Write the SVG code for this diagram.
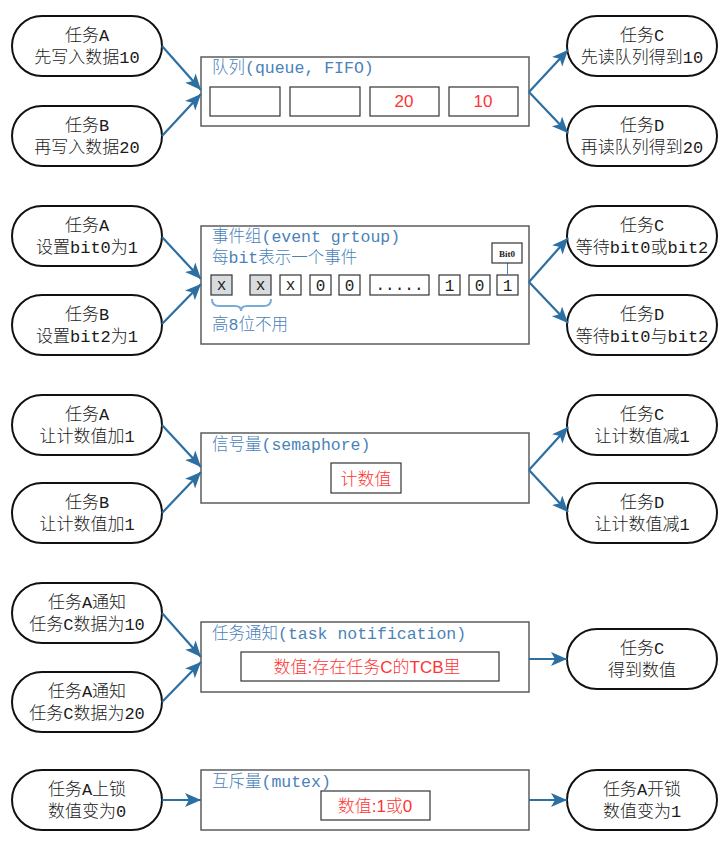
<svg xmlns="http://www.w3.org/2000/svg" width="728" height="859" viewBox="0 0 728 859">
<style>
.pill{fill:#fff;stroke:#111;stroke-width:2}
.box{fill:#fff;stroke:#5c5c5c;stroke-width:1.5}
.inner{fill:#fff;stroke:#333;stroke-width:1.2}
.cell{fill:#fff;stroke:#333;stroke-width:1.2}
.gcell{fill:#d9dcdf;stroke:#333;stroke-width:1.2}
text{font-family:"Liberation Mono","Noto Sans CJK SC",monospace;font-size:16px;font-weight:300}
.pt{fill:#1a1a1a;text-anchor:middle;font-size:17px}
.tt{fill:#4a82b8;font-size:16.5px}
.rt{fill:#f33;text-anchor:middle;font-family:"Liberation Sans","Noto Sans CJK SC",sans-serif;font-size:17px}
.ct{fill:#222;text-anchor:middle}
.conn line{stroke:#2b6fa3;stroke-width:2.2;marker-end:url(#ah)}
</style>
<defs>
<marker id="ah" markerUnits="userSpaceOnUse" markerWidth="18" markerHeight="16" refX="16" refY="7" orient="auto">
<path d="M0,0 L16,7 L0,14 L4,7 z" fill="#2b6fa3"/>
</marker>
</defs>
<rect width="728" height="859" fill="#fff"/>

<!-- Section 1: queue -->
<g id="q-taskA"><rect class="pill" x="12" y="16" width="150" height="60" rx="30"/><text class="pt" x="87" y="41">任务A</text><text class="pt" x="87" y="63">先写入数据10</text></g>
<g id="q-taskB"><rect class="pill" x="12" y="106" width="150" height="60" rx="30"/><text class="pt" x="87" y="131">任务B</text><text class="pt" x="87" y="153">再写入数据20</text></g>
<g id="q-box"><rect class="box" x="201" y="57" width="328" height="69"/><text class="tt" x="212" y="73">队列(queue, FIFO)</text>
<rect class="cell" x="210" y="87" width="70" height="29"/><rect class="cell" x="290" y="87" width="70" height="29"/><rect class="cell" x="370" y="87" width="69" height="29"/><rect class="cell" x="449" y="87" width="69" height="29"/>
<text class="rt" x="404" y="107">20</text><text class="rt" x="483" y="107">10</text></g>
<g id="q-taskC"><rect class="pill" x="567" y="16" width="150" height="60" rx="30"/><text class="pt" x="642" y="41">任务C</text><text class="pt" x="642" y="63">先读队列得到10</text></g>
<g id="q-taskD"><rect class="pill" x="567" y="106" width="150" height="60" rx="30"/><text class="pt" x="642" y="131">任务D</text><text class="pt" x="642" y="153">再读队列得到20</text></g>

<!-- Section 2: event group -->
<g id="e-taskA"><rect class="pill" x="12" y="206" width="150" height="60" rx="30"/><text class="pt" x="87" y="231">任务A</text><text class="pt" x="87" y="253">设置bit0为1</text></g>
<g id="e-taskB"><rect class="pill" x="12" y="295" width="150" height="60" rx="30"/><text class="pt" x="87" y="320">任务B</text><text class="pt" x="87" y="342">设置bit2为1</text></g>
<g id="e-box"><rect class="box" x="201" y="226" width="328" height="118"/>
<text class="tt" x="212" y="242">事件组(event grtoup)</text>
<text class="tt" x="212" y="263">每bit表示一个事件</text>
<rect class="gcell" x="211" y="275" width="21" height="20"/><rect class="gcell" x="250" y="275" width="21" height="20"/>
<rect class="cell" x="280" y="275" width="21" height="20"/><rect class="cell" x="310" y="275" width="21" height="20"/><rect class="cell" x="339" y="275" width="21" height="20"/>
<rect class="cell" x="370" y="275" width="59" height="20"/><rect class="cell" x="439" y="275" width="21" height="20"/><rect class="cell" x="469" y="275" width="21" height="20"/><rect class="cell" x="497" y="275" width="21" height="20"/>
<text class="ct" x="221.5" y="290">x</text><text class="ct" x="260.5" y="290">x</text><text class="ct" x="290.5" y="290">x</text><text class="ct" x="320.5" y="291">0</text><text class="ct" x="349.5" y="291">0</text><text class="ct" x="399.5" y="290">.....</text><text class="ct" x="449.5" y="291">1</text><text class="ct" x="479.5" y="291">0</text><text class="ct" x="507.5" y="291">1</text>
<path d="M212,299 Q212,306 219,306 L235,306 Q241,306 241,311 Q241,306 247,306 L264,306 Q271,306 271,299" fill="none" stroke="#7aaad8" stroke-width="2"/>
<text class="tt" x="212" y="330">高8位不用</text>
<line x1="507.5" y1="263" x2="507.5" y2="275" stroke="#4a82b8" stroke-width="1"/>
<rect class="cell" x="492" y="243" width="30" height="20"/>
<text x="507" y="257" text-anchor="middle" style="font-family:'Liberation Serif',serif;font-size:9px;font-weight:bold;fill:#222">Bit0</text>
</g>
<g id="e-taskC"><rect class="pill" x="567" y="206" width="150" height="60" rx="30"/><text class="pt" x="642" y="231">任务C</text><text class="pt" x="642" y="253">等待bit0或bit2</text></g>
<g id="e-taskD"><rect class="pill" x="567" y="295" width="150" height="60" rx="30"/><text class="pt" x="642" y="320">任务D</text><text class="pt" x="642" y="342">等待bit0与bit2</text></g>

<!-- Section 3: semaphore -->
<g id="s-taskA"><rect class="pill" x="12" y="395" width="150" height="60" rx="30"/><text class="pt" x="87" y="420">任务A</text><text class="pt" x="87" y="442">让计数值加1</text></g>
<g id="s-taskB"><rect class="pill" x="12" y="483" width="150" height="60" rx="30"/><text class="pt" x="87" y="508">任务B</text><text class="pt" x="87" y="530">让计数值加1</text></g>
<g id="s-box"><rect class="box" x="201" y="433" width="328" height="70"/><text class="tt" x="212" y="450">信号量(semaphore)</text>
<rect class="inner" x="331" y="463" width="70" height="30"/><text class="rt" x="366" y="485">计数值</text></g>
<g id="s-taskC"><rect class="pill" x="567" y="395" width="150" height="60" rx="30"/><text class="pt" x="642" y="420">任务C</text><text class="pt" x="642" y="442">让计数值减1</text></g>
<g id="s-taskD"><rect class="pill" x="567" y="483" width="150" height="60" rx="30"/><text class="pt" x="642" y="508">任务D</text><text class="pt" x="642" y="530">让计数值减1</text></g>

<!-- Section 4: task notification -->
<g id="n-taskA"><rect class="pill" x="12" y="583" width="150" height="60" rx="30"/><text class="pt" x="87" y="608">任务A通知</text><text class="pt" x="87" y="630">任务C数据为10</text></g>
<g id="n-taskB"><rect class="pill" x="12" y="672" width="150" height="60" rx="30"/><text class="pt" x="87" y="697">任务A通知</text><text class="pt" x="87" y="719">任务C数据为20</text></g>
<g id="n-box"><rect class="box" x="201" y="622" width="328" height="70"/><text class="tt" x="212" y="639">任务通知(task notification)</text>
<rect class="inner" x="241" y="652" width="258" height="29"/><text class="rt" x="367" y="673">数值:存在任务C的TCB里</text></g>
<g id="n-taskC"><rect class="pill" x="567" y="629" width="150" height="60" rx="30"/><text class="pt" x="642" y="654">任务C</text><text class="pt" x="642" y="676">得到数值</text></g>

<!-- Section 5: mutex -->
<g id="m-lock"><rect class="pill" x="12" y="770" width="150" height="60" rx="30"/><text class="pt" x="87" y="795">任务A上锁</text><text class="pt" x="87" y="817">数值变为0</text></g>
<g id="m-box"><rect class="box" x="201" y="770" width="328" height="60"/><text class="tt" x="212" y="787">互斥量(mutex)</text>
<rect class="inner" x="321" y="791" width="109" height="29"/><text class="rt" x="375" y="812">数值:1或0</text></g>
<g id="m-unlock"><rect class="pill" x="567" y="770" width="150" height="60" rx="30"/><text class="pt" x="642" y="795">任务A开锁</text><text class="pt" x="642" y="817">数值变为1</text></g>

<g id="connectors" class="conn">
<line x1="162" y1="46" x2="201" y2="90"/>
<line x1="162" y1="136" x2="201" y2="94"/>
<line x1="529" y1="92" x2="568" y2="50"/>
<line x1="529" y1="92" x2="568" y2="133"/>
<line x1="162" y1="237" x2="201" y2="279"/>
<line x1="162" y1="324" x2="201" y2="284"/>
<line x1="529" y1="282" x2="568" y2="238"/>
<line x1="529" y1="282" x2="568" y2="323"/>
<line x1="162" y1="425" x2="201" y2="467"/>
<line x1="162" y1="513" x2="201" y2="472"/>
<line x1="529" y1="470" x2="568" y2="427"/>
<line x1="529" y1="470" x2="568" y2="512"/>
<line x1="162" y1="613" x2="201" y2="657"/>
<line x1="162" y1="702" x2="201" y2="662"/>
<line x1="529" y1="659" x2="567" y2="659"/>
<line x1="162" y1="800" x2="201" y2="800"/>
<line x1="529" y1="800" x2="567" y2="800"/>
</g>
</svg>
